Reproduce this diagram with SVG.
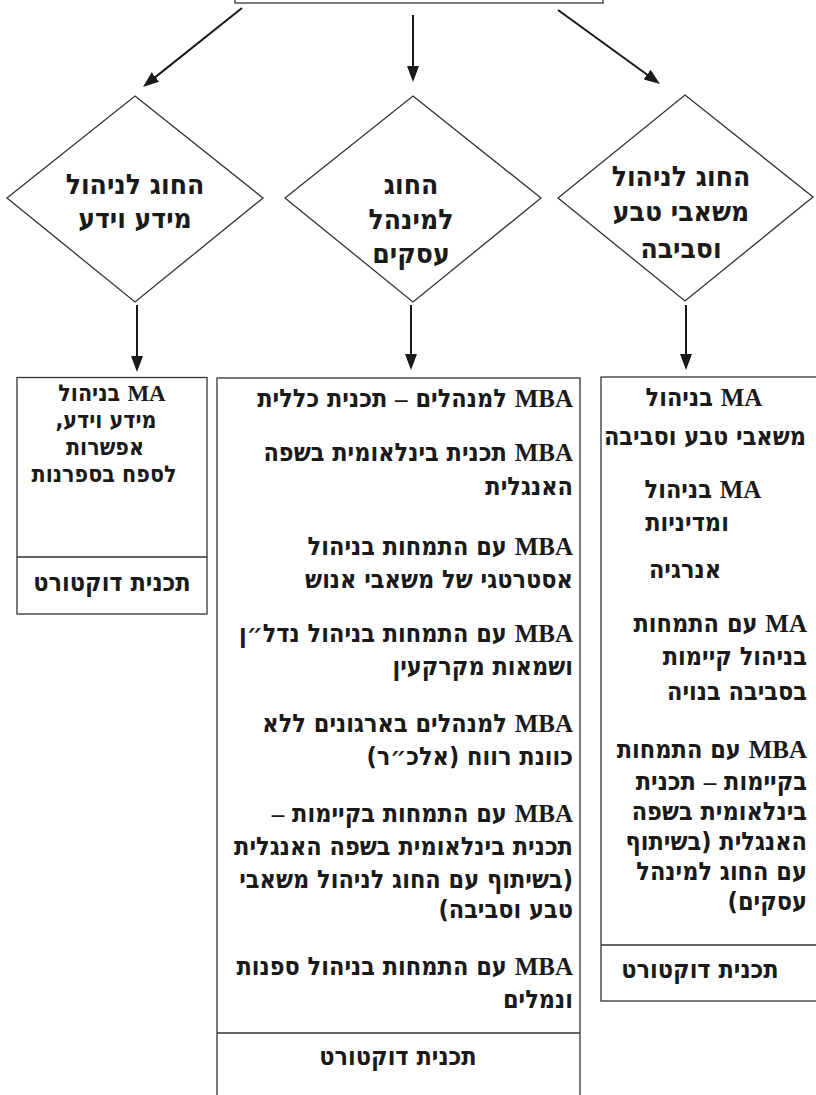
<svg xmlns="http://www.w3.org/2000/svg" width="816" height="1095" viewBox="0 0 816 1095">
<style>
.box{fill:none;stroke:#333;stroke-width:1.3}
.conn{fill:none;stroke:#1a1a1a;stroke-width:2;marker-end:url(#ah)}
.t{font-family:"DejaVu Sans Condensed","DejaVu Sans",sans-serif;font-weight:bold;font-size:25px;fill:#1a1a1a;direction:rtl}
.s{font-size:23px}
.t tspan.l{font-family:"Liberation Serif","Times New Roman",serif;font-weight:bold}
.d{font-family:"DejaVu Sans Condensed","DejaVu Sans",sans-serif;font-weight:bold;font-size:28px;fill:#1a1a1a;direction:rtl;text-anchor:middle}
.c{text-anchor:middle}
.r{text-anchor:start}
</style>
<defs>
<marker id="ah" markerUnits="userSpaceOnUse" markerWidth="16" markerHeight="12" refX="13" refY="6" orient="auto">
<path d="M0,0 L16,6 L0,12 z" fill="#1a1a1a"/>
</marker>
</defs>
<rect width="816" height="1095" fill="#fff"/>
<g id="top">
<rect class="box" x="235" y="-10" width="368" height="13"/>
</g>
<g id="connectors">
<line class="conn" x1="242" y1="8" x2="145.3" y2="85.1"/>
<line class="conn" x1="413" y1="15" x2="413" y2="79"/>
<line class="conn" x1="558" y1="10" x2="657.6" y2="82.2"/>
<line class="conn" x1="137" y1="305" x2="137" y2="369"/>
<line class="conn" x1="411" y1="305" x2="411" y2="367"/>
<line class="conn" x1="686" y1="305" x2="686" y2="367"/>
</g>
<g id="dept-info">
<polygon class="box" points="135,96 263,198 135,302 7,198"/>
<text class="d" x="135" y="194">החוג לניהול</text>
<text class="d" x="135" y="228">מידע וידע</text>
</g>
<g id="dept-business">
<polygon class="box" points="413,96 541,198 413,302 285,198"/>
<text class="d" x="411" y="194">החוג</text>
<text class="d" x="411" y="229">למינהל</text>
<text class="d" x="411" y="263">עסקים</text>
</g>
<g id="dept-env">
<polygon class="box" points="685,95 813,197 685,301 558,198"/>
<text class="d" x="681" y="186">החוג לניהול</text>
<text class="d" x="681" y="221">משאבי טבע</text>
<text class="d" x="681" y="258">וסביבה</text>
</g>
<g id="prog-info">
<rect class="box" x="17" y="377.5" width="190" height="236.5"/>
<line class="box" x1="17" y1="557" x2="207" y2="557"/>
<text class="t s c" x="112" y="401"><tspan class="l">MA</tspan> בניהול</text>
<text class="t s c" x="106" y="428">מידע וידע,</text>
<text class="t s c" x="105" y="455">אפשרות</text>
<text class="t s c" x="104" y="482">לספח בספרנות</text>
<text class="t c" x="112" y="591">תכנית דוקטורט</text>
</g>
<g id="prog-business">
<rect class="box" x="217" y="378" width="363" height="730"/>
<line class="box" x1="217" y1="1033" x2="580" y2="1033"/>
<text class="t r" x="573" y="407"><tspan class="l">MBA</tspan> למנהלים <tspan class="l">–</tspan> תכנית כללית</text>
<text class="t r" x="573" y="461"><tspan class="l">MBA</tspan> תכנית בינלאומית בשפה</text>
<text class="t r" x="573" y="495">האנגלית</text>
<text class="t r" x="573" y="555"><tspan class="l">MBA</tspan> עם התמחות בניהול</text>
<text class="t r" x="573" y="588">אסטרטגי של משאבי אנוש</text>
<text class="t r" x="573" y="642"><tspan class="l">MBA</tspan> עם התמחות בניהול נדל״ן</text>
<text class="t r" x="573" y="675">ושמאות מקרקעין</text>
<text class="t r" x="573" y="732"><tspan class="l">MBA</tspan> למנהלים בארגונים ללא</text>
<text class="t r" x="573" y="765">כוונת רווח (אלכ״ר)</text>
<text class="t r" x="573" y="822"><tspan class="l">MBA</tspan> עם התמחות בקיימות <tspan class="l">–</tspan></text>
<text class="t r" x="573" y="855">תכנית בינלאומית בשפה האנגלית</text>
<text class="t r" x="573" y="888">(בשיתוף עם החוג לניהול משאבי</text>
<text class="t r" x="573" y="918">טבע וסביבה)</text>
<text class="t r" x="573" y="975"><tspan class="l">MBA</tspan> עם התמחות בניהול ספנות</text>
<text class="t r" x="573" y="1008">ונמלים</text>
<text class="t c" x="398" y="1065">תכנית דוקטורט</text>
</g>
<g id="prog-env">
<rect class="box" x="601" y="377" width="230" height="624"/>
<line class="box" x1="601" y1="945" x2="831" y2="945"/>
<text class="t c" x="704" y="406"><tspan class="l">MA</tspan> בניהול</text>
<text class="t c" x="705" y="445">משאבי טבע וסביבה</text>
<text class="t c" x="703" y="498"><tspan class="l">MA</tspan> בניהול</text>
<text class="t c" x="687" y="531">ומדיניות</text>
<text class="t c" x="685" y="578">אנרגיה</text>
<text class="t r" x="807" y="632"><tspan class="l">MA</tspan> עם התמחות</text>
<text class="t r" x="807" y="665">בניהול קיימות</text>
<text class="t r" x="807" y="700">בסביבה בנויה</text>
<text class="t r" x="807" y="758"><tspan class="l">MBA</tspan> עם התמחות</text>
<text class="t r" x="807" y="790">בקיימות <tspan class="l">–</tspan> תכנית</text>
<text class="t r" x="807" y="820">בינלאומית בשפה</text>
<text class="t r" x="807" y="850">האנגלית (בשיתוף</text>
<text class="t r" x="807" y="880">עם החוג למינהל</text>
<text class="t r" x="807" y="910">עסקים)</text>
<text class="t c" x="700" y="978">תכנית דוקטורט</text>
</g>
</svg>
